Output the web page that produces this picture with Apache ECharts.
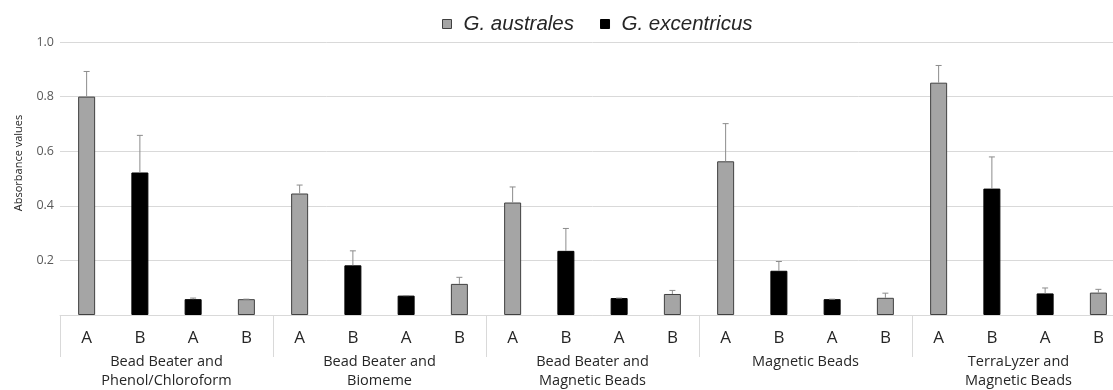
<!DOCTYPE html>
<html>
<head>
<meta charset="utf-8">
<script src="https://cdn.jsdelivr.net/npm/echarts@6/dist/echarts.min.js"></script>
<style>
html,body{margin:0;padding:0;background:#fff;overflow:hidden;width:1113px;height:390px;}
#chart{width:1125px;height:390px;}
</style>
</head>
<body>
<div id="chart"></div>
<script>
// Data
const groups = ['Bead Beater and\nPhenol/Chloroform', 'Bead Beater and\nBiomeme', 'Bead Beater and\nMagnetic Beads', 'Magnetic Beads', 'TerraLyzer and\nMagnetic Beads'];
const subLabels = ['A', 'B', 'A', 'B', 'A', 'B', 'A', 'B', 'A', 'B', 'A', 'B', 'A', 'B', 'A', 'B', 'A', 'B', 'A', 'B'];
const seriesNames = ['G. australes', 'G. excentricus'];
const yAxisTitle = 'Absorbance values';
const australes = [0.80, null, null, 0.058, 0.445, null, null, 0.114, 0.412, null, null, 0.077, 0.563, null, null, 0.063, 0.851, null, null, 0.082];
const excentricus = [null, 0.522, 0.058, null, null, 0.182, 0.071, null, null, 0.235, 0.062, null, null, 0.162, 0.058, null, null, 0.463, 0.079, null];
const errorTop = [0.892, 0.658, 0.062, 0.058, 0.476, 0.235, 0.071, 0.138, 0.469, 0.317, 0.062, 0.090, 0.701, 0.196, 0.058, 0.080, 0.914, 0.579, 0.099, 0.094];

const errData = subLabels.map((_, i) => {
  const v = australes[i] != null ? australes[i] : excentricus[i];
  return [i, v, errorTop[i]];
});

const chart = echarts.init(document.getElementById('chart'), null, {renderer: 'canvas'});
const font = 'Open Sans, Noto Sans, sans-serif';
chart.setOption({
  animation: false,
  graphic: [{
    type: 'text',
    x: 19,
    y: 163,
    rotation: Math.PI / 2,
    style: {text: yAxisTitle, fontSize: 11, fill: '#262626', fontFamily: font, align: 'center', verticalAlign: 'middle'}
  }],
  legend: {
    top: 9,
    left: 437,
    itemWidth: 9,
    itemHeight: 9,
    itemGap: 26,
    textStyle: {fontFamily: 'Liberation Sans, Arial, sans-serif', fontStyle: 'italic', fontSize: 20.5, color: '#262626', padding: [0, 0, 0, 7]},
    data: [
      {name: seriesNames[0], icon: 'rect', itemStyle: {color: '#a5a5a5', borderColor: '#404040', borderWidth: 1}},
      {name: seriesNames[1], icon: 'rect', itemStyle: {color: '#000000', borderColor: '#000', borderWidth: 1}}
    ]
  },
  grid: {left: 60, right: 0, top: 42, bottom: 75, containLabel: false},
  xAxis: [
    {
      type: 'category',
      data: subLabels,
      position: 'bottom',
      offset: 0,
      axisLine: {show: true, lineStyle: {color: '#d9d9d9', width: 1}},
      axisTick: {show: false},
      axisLabel: {margin: 15, fontSize: 17, color: '#262626', fontFamily: font, interval: 0}
    },
    {
      type: 'category',
      data: groups,
      position: 'bottom',
      offset: 0,
      axisLine: {show: false},
      axisTick: {show: true, length: 42, interval: 0, lineStyle: {color: '#d9d9d9', width: 1}},
      axisLabel: {margin: 37, fontSize: 14.5, lineHeight: 19, color: '#262626', fontFamily: font, interval: 0}
    }
  ],
  yAxis: {
    type: 'value',
    min: 0,
    max: 1.0,
    interval: 0.2,
    axisLine: {show: false},
    axisTick: {show: false},
    axisLabel: {
      margin: 6,
      fontSize: 12.5,
      color: '#595959',
      fontFamily: font,
      formatter: v => (v === 0 ? '' : v.toFixed(1))
    },
    splitLine: {lineStyle: {color: '#d9d9d9', width: 1}}
  },
  series: [
    {
      name: seriesNames[0],
      type: 'bar',
      data: australes,
      barWidth: 17,
      barGap: '-100%',
      itemStyle: {color: '#a5a5a5', borderColor: '#404040', borderWidth: 1}
    },
    {
      name: seriesNames[1],
      type: 'bar',
      data: excentricus,
      barWidth: 17,
      barGap: '-100%',
      itemStyle: {color: '#000000', borderColor: '#000000', borderWidth: 1}
    },
    {
      name: 'err',
      type: 'custom',
      z: 5,
      data: errData,
      renderItem: function (params, api) {
        const x = api.value(0);
        const p0 = api.coord([x, api.value(1)]);
        const p1 = api.coord([x, api.value(2)]);
        const style = {stroke: '#8c8c8c', lineWidth: 1};
        return {
          type: 'group',
          children: [
            {type: 'line', shape: {x1: p0[0], y1: p0[1], x2: p1[0], y2: p1[1]}, style: style},
            {type: 'line', shape: {x1: p1[0] - 3, y1: p1[1], x2: p1[0] + 3, y2: p1[1]}, style: style}
          ]
        };
      }
    }
  ]
});
</script>
</body>
</html>
